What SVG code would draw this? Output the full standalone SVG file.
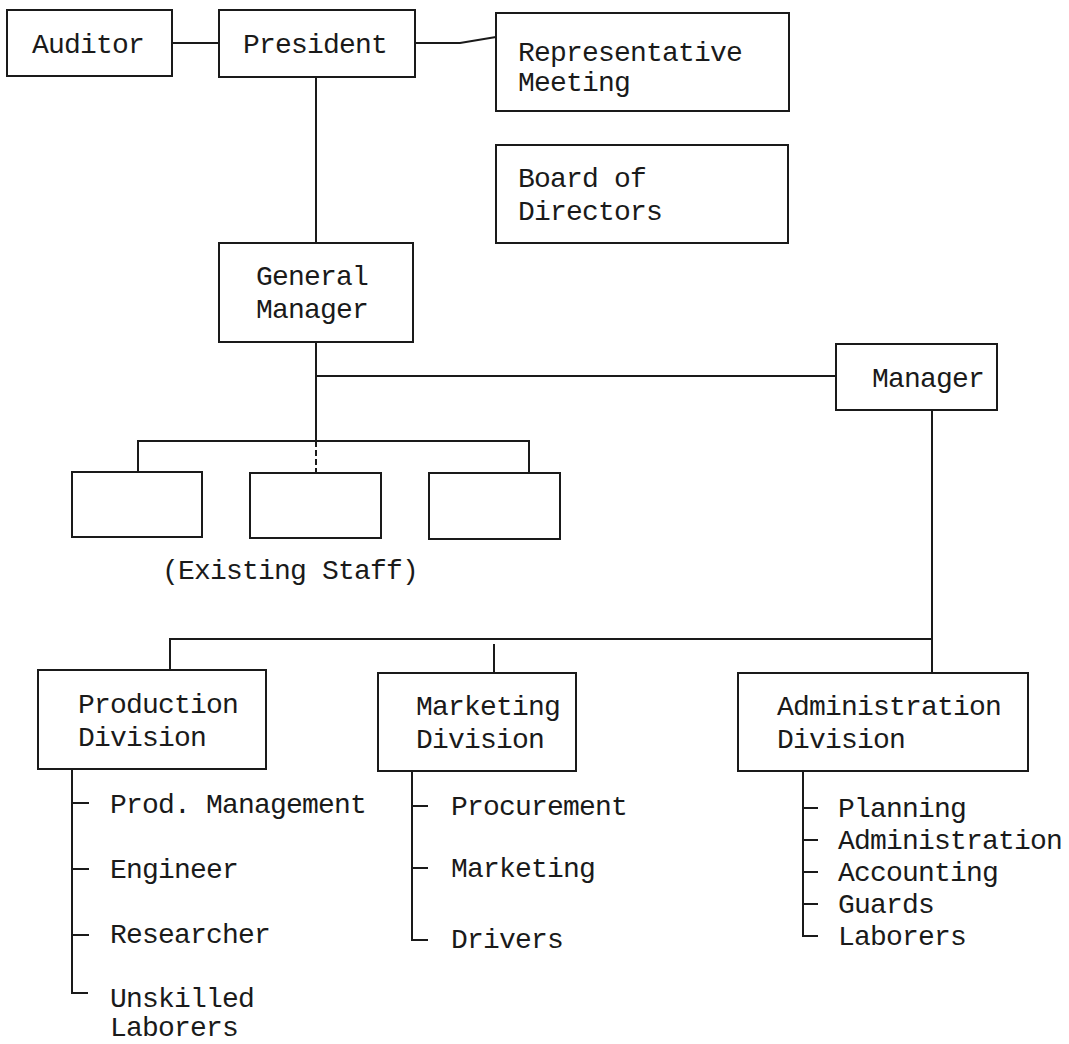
<svg xmlns="http://www.w3.org/2000/svg" width="1069" height="1044" viewBox="0 0 1069 1044">
<style>
.box{fill:#fff;stroke:#1a1a1a;stroke-width:2}
.ln{stroke:#1a1a1a;stroke-width:2;fill:none}
.dash{stroke:#1a1a1a;stroke-width:2;fill:none;stroke-dasharray:6 3}
text{font-family:"Liberation Mono","DejaVu Sans Mono",monospace;font-size:28px;letter-spacing:-0.8px;fill:#1a1a1a}
</style>
<rect width="1069" height="1044" fill="#fff"/>
<g id="connectors">
<line class="ln" x1="172" y1="43" x2="219" y2="43"/>
<polyline class="ln" points="415,43 460,43 496,37"/>
<line class="ln" x1="316" y1="77" x2="316" y2="243"/>
<line class="ln" x1="316" y1="342" x2="316" y2="441"/>
<line class="ln" x1="316" y1="376" x2="836" y2="376"/>
<polyline class="ln" points="138,472 138,441 529,441 529,473"/>
<line class="dash" x1="316" y1="441" x2="316" y2="473"/>
<line class="ln" x1="932" y1="410" x2="932" y2="673"/>
<polyline class="ln" points="170,670 170,639 932,639"/>
<line class="ln" x1="494" y1="644" x2="494" y2="673"/>
<polyline class="ln" points="72,769 72,993 88,993"/>
<line class="ln" x1="72" y1="803" x2="89" y2="803"/>
<line class="ln" x1="72" y1="869" x2="89" y2="869"/>
<line class="ln" x1="72" y1="935" x2="89" y2="935"/>
<polyline class="ln" points="412,771 412,940 428,940"/>
<line class="ln" x1="412" y1="806" x2="428" y2="806"/>
<line class="ln" x1="412" y1="868" x2="428" y2="868"/>
<polyline class="ln" points="803,771 803,936 818,936"/>
<line class="ln" x1="803" y1="808" x2="818" y2="808"/>
<line class="ln" x1="803" y1="840" x2="818" y2="840"/>
<line class="ln" x1="803" y1="872" x2="818" y2="872"/>
<line class="ln" x1="803" y1="904" x2="818" y2="904"/>
</g>
<g id="auditor"><rect class="box" x="7" y="10" width="165" height="66"/><text x="32" y="53">Auditor</text></g>
<g id="president"><rect class="box" x="219" y="10" width="196" height="67"/><text x="243" y="53">President</text></g>
<g id="representative-meeting"><rect class="box" x="496" y="13" width="293" height="98"/><text x="518" y="61">Representative</text><text x="518" y="91">Meeting</text></g>
<g id="board-of-directors"><rect class="box" x="496" y="145" width="292" height="98"/><text x="518" y="187">Board of</text><text x="518" y="220">Directors</text></g>
<g id="general-manager"><rect class="box" x="219" y="243" width="194" height="99"/><text x="256" y="285">General</text><text x="256" y="318">Manager</text></g>
<g id="manager"><rect class="box" x="836" y="344" width="161" height="66"/><text x="872" y="387">Manager</text></g>
<g id="staff-1"><rect class="box" x="72" y="472" width="130" height="65"/></g>
<g id="staff-2"><rect class="box" x="250" y="473" width="131" height="65"/></g>
<g id="staff-3"><rect class="box" x="429" y="473" width="131" height="66"/></g>
<g id="existing-staff-label"><text x="162" y="579">(Existing Staff)</text></g>
<g id="production-division"><rect class="box" x="38" y="670" width="228" height="99"/><text x="78" y="713">Production</text><text x="78" y="746">Division</text>
<text x="110" y="813">Prod. Management</text><text x="110" y="878">Engineer</text><text x="110" y="943">Researcher</text><text x="110" y="1007">Unskilled</text><text x="110" y="1036">Laborers</text></g>
<g id="marketing-division"><rect class="box" x="378" y="673" width="198" height="98"/><text x="416" y="715">Marketing</text><text x="416" y="748">Division</text>
<text x="451" y="815">Procurement</text><text x="451" y="877">Marketing</text><text x="451" y="948">Drivers</text></g>
<g id="administration-division"><rect class="box" x="738" y="673" width="290" height="98"/><text x="777" y="715">Administration</text><text x="777" y="748">Division</text>
<text x="838" y="817">Planning</text><text x="838" y="849">Administration</text><text x="838" y="881">Accounting</text><text x="838" y="913">Guards</text><text x="838" y="945">Laborers</text></g>
</svg>
